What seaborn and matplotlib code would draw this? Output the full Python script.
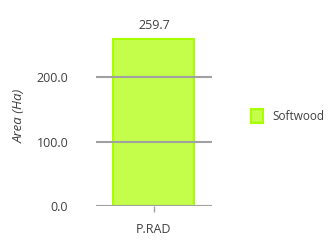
import numpy as np
import pandas as pd
import seaborn as sns
import matplotlib.pyplot as plt

categories = ['P.RAD']
softwood = [259.7]
yticks = [0, 100, 200]

sns.set_style("white")
plt.rcParams['font.family'] = ['Open Sans', 'DejaVu Sans']

df = pd.DataFrame({'site': categories, 'area': softwood, 'type': 'Softwood'})

fig = plt.figure(figsize=(3.31, 2.45), dpi=100)
ax = fig.add_axes([0.29, 0.159, 0.35, 0.737])
sns.barplot(data=df, x='site', y='area', hue='type', palette=['#c4fe4a'], saturation=1,
            width=0.7, edgecolor='#a8ff00', linewidth=1.5, ax=ax, zorder=1)
ax.set_ylim(0, 280)
ax.set_xlim(-0.5, 0.5)
ax.set_yticks(yticks)
ax.set_yticklabels([f'{v:.1f}' for v in yticks], fontsize=9, color='#404040')
ax.tick_params(axis='y', length=0, pad=20)
ax.tick_params(axis='x', length=4, width=1, color='#a0a0a0', pad=8, labelsize=9, labelcolor='#404040', bottom=True)
for v in yticks:
    ax.axhline(v, color='#a0a0a0', lw=1.5, zorder=3)
for s in ax.spines.values():
    s.set_visible(False)
ax.set_xlabel('')
ax.set_ylabel('Area (Ha)', fontsize=9.5, style='italic', color='#404040', labelpad=8)
ax.bar_label(ax.containers[0], fmt='%.1f', fontsize=9, color='#404040', padding=5)
ax.legend(loc='center left', bbox_to_anchor=(1.25, 0.5), frameon=False, fontsize=8.5,
          handlelength=1.0, handleheight=1.4, handletextpad=0.8, labelcolor='#404040')
fig.savefig('out.png', dpi=100)
